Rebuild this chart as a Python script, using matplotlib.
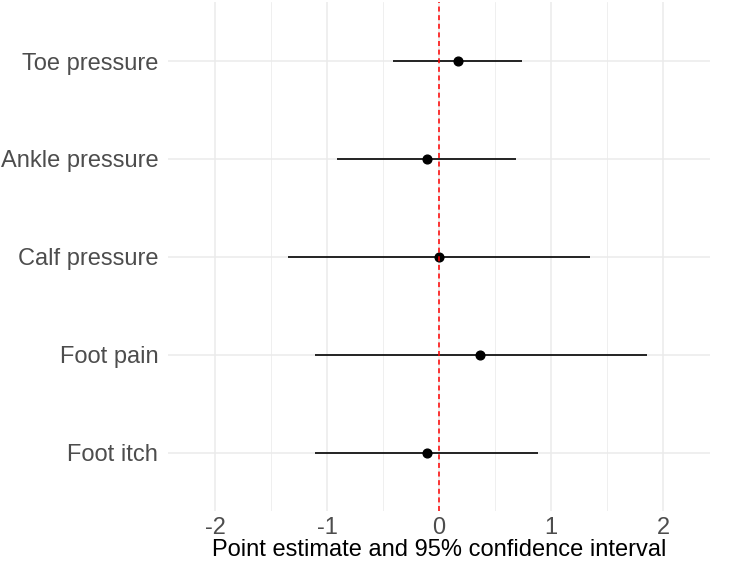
import matplotlib
matplotlib.use("Agg")
import matplotlib.pyplot as plt
from matplotlib.ticker import MultipleLocator

outcomes = ["Toe pressure", "Ankle pressure", "Calf pressure", "Foot pain", "Foot itch"]
estimate = [0.17, -0.11, 0.00, 0.37, -0.11]
lower = [-0.41, -0.91, -1.35, -1.11, -1.11]
upper = [0.745, 0.69, 1.345, 1.86, 0.885]
x_ticks = [-2, -1, 0, 1, 2]
x_label = "Point estimate and 95% confidence interval"

plt.rcParams['font.family'] = ['Liberation Sans', 'DejaVu Sans']
plt.rcParams['lines.scale_dashes'] = False

fig = plt.figure(figsize=(7.44, 5.63), dpi=100)
ax = fig.add_axes([168/744, 1-511.4/563, (710-168)/744, (511.4-2.3)/563])

n = len(outcomes)
ypos = list(range(n - 1, -1, -1))  # first category on top

ax.hlines(ypos, lower, upper, color='black', lw=1.2, zorder=3)
ax.plot(estimate, ypos, 'o', color='black', ms=6.3, zorder=4)
ax.axvline(0, color='red', lw=1.1, linestyle=(0, (3.6, 2.6)), zorder=5)

ax.set_xlim(-2.42, 2.42)
ax.set_ylim(-0.6, n - 1 + 0.6)
ax.set_xticks(x_ticks)
ax.set_xticklabels([str(t) for t in x_ticks])
ax.xaxis.set_minor_locator(MultipleLocator(0.5))
ax.set_yticks(ypos)
ax.set_yticklabels(outcomes)

ax.grid(which='major', color='#EBEBEB', lw=1.1, zorder=0)
ax.grid(which='minor', axis='x', color='#EBEBEB', lw=0.55, zorder=0)
ax.set_axisbelow(True)
for s in ax.spines.values():
    s.set_visible(False)
ax.tick_params(which='both', length=0)
ax.tick_params(axis='both', labelsize=17, labelcolor='#4D4D4D')
ax.tick_params(axis='y', pad=7)
ax.tick_params(axis='x', pad=4)
ax.set_xlabel(x_label, fontsize=17, color='black', labelpad=0)

fig.savefig("out.png", dpi=100, facecolor='white')
